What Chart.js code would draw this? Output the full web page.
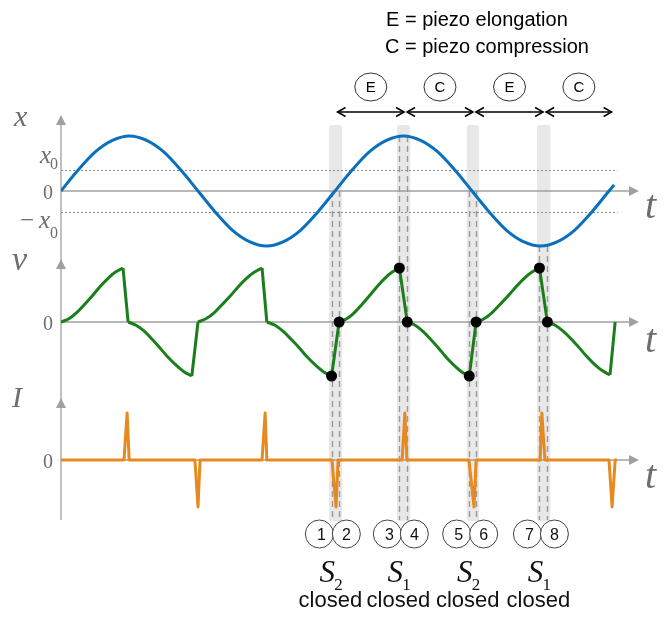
<!DOCTYPE html>
<html><head><meta charset="utf-8">
<script src="https://cdn.jsdelivr.net/npm/chart.js@4/dist/chart.umd.min.js"></script>
<style>html,body{margin:0;padding:0;background:#fff;}#wrap{width:672px;height:621px;}</style>
</head><body><div id="wrap"><canvas id="c" width="672" height="621"></canvas></div>
<script>
// ---- data (time in arbitrary units, one vibration period = 8) ----
const timeX = [0,0.5,1,1.5,2,2.5,3,3.5,4,4.5,5,5.5,6,6.5,7,7.5,8,8.5,9,9.5,10,10.5,11,11.5,12,12.5,13,13.5,14,14.5,15,15.5,16,16.15];
const displacement = [0,0.38,0.71,0.92,1,0.92,0.71,0.38,0,-0.38,-0.71,-0.92,-1,-0.92,-0.71,-0.38,0,0.38,0.71,0.92,1,0.92,0.71,0.38,0,-0.38,-0.71,-0.92,-1,-0.92,-0.71,-0.38,0,0.11];
const x0Level = 0.39;

const timeV = [0,0.23,0.45,0.68,0.91,1.13,1.36,1.58,1.81, 1.9,
  1.96,2.19,2.43,2.66,2.89,3.12,3.36,3.59,3.82, 3.9,
  4.0,4.23,4.47,4.70,4.94,5.17,5.40,5.64,5.87, 5.95,
  6.01,6.25,6.48,6.72,6.96,7.19,7.43,7.66,7.90, 8.0,
  8.12,8.34,8.56,8.78,9.00,9.22,9.44,9.66,9.88, 10.0,
  10.11,10.34,10.56,10.79,11.02,11.24,11.47,11.69,11.92, 12.0,
  12.12,12.35,12.58,12.81,13.05,13.28,13.51,13.74,13.97, 14.1,
  14.20,14.43,14.66,14.89,15.12,15.34,15.57,15.80,16.03];
const voltage = [0,0.06,0.17,0.32,0.48,0.65,0.80,0.92,1, null,
  0,-0.06,-0.17,-0.32,-0.48,-0.65,-0.80,-0.92,-1, null,
  0,0.06,0.17,0.32,0.48,0.65,0.80,0.92,1, null,
  0,-0.06,-0.17,-0.32,-0.48,-0.65,-0.80,-0.92,-1, null,
  0,0.06,0.17,0.32,0.48,0.65,0.80,0.92,1, null,
  0,-0.06,-0.17,-0.32,-0.48,-0.65,-0.80,-0.92,-1, null,
  0,0.06,0.17,0.32,0.48,0.65,0.80,0.92,1, null,
  0,-0.06,-0.17,-0.31,-0.47,-0.63,-0.78,-0.90,-0.98];
const jumpT = [1.81,1.96,1.97, 3.82,4.0,4.01, 5.87,6.01,6.02, 7.90,8.12,8.13, 9.88,10.11,10.12, 11.92,12.12,12.13, 13.97,14.20,14.21, 16.03,16.18];
const jumpV = [1,0,null, -1,0,null, 1,0,null, -1,0,null, 1,0,null, -1,0,null, 1,0,null, -0.98,0];

const timeI = [0,1.84,1.93,1.99,3.91,4.00,4.06,5.87,5.96,6.01,7.91,8.03,8.09,9.96,10.04,10.10,11.91,12.06,12.12,13.99,14.04,14.13,16.00,16.09,16.18,16.23];
const current = [0,0,1,0,0,-1,0,0,1,0,0,-1,0,0,1,0,0,-1,0,0,1,0,0,-1,0,0];

const switchStartT = [7.90, 9.88, 11.92, 13.97];
const switchEndT = [8.12, 10.11, 12.12, 14.20];
const switchX = [0, 1, 0, -1];
const switchV = [-1, 1, -1, 1];
const phaseBounds = [8.03, 10.06, 12.07, 14.12, 16.12];
const phaseLabels = ['E','C','E','C'];
const eventNumbers = [['1','2'],['3','4'],['5','6'],['7','8']];
const switchSub = ['2','1','2','1'];

const dotPoints = [];
for (let i = 0; i < switchStartT.length; i++) {
  dotPoints.push({x: switchStartT[i], y: switchV[i]});
  dotPoints.push({x: switchEndT[i], y: 0});
}
const zip = (a, b) => a.map((t, i) => ({x: t, y: b[i]}));

const BLUE = '#0a70be', GREEN = '#1a7f1a', ORANGE = '#e6891e', GRAY = '#a0a0a0', LABEL = '#6e6e6e';

function rrect(ctx, x, y, w, h, r) {
  ctx.beginPath();
  ctx.moveTo(x + r, y); ctx.lineTo(x + w - r, y); ctx.quadraticCurveTo(x + w, y, x + w, y + r);
  ctx.lineTo(x + w, y + h - r); ctx.quadraticCurveTo(x + w, y + h, x + w - r, y + h);
  ctx.lineTo(x + r, y + h); ctx.quadraticCurveTo(x, y + h, x, y + h - r);
  ctx.lineTo(x, y + r); ctx.quadraticCurveTo(x, y, x + r, y); ctx.closePath();
}
function tri(ctx, pts) {
  ctx.beginPath(); ctx.moveTo(pts[0], pts[1]); ctx.lineTo(pts[2], pts[3]); ctx.lineTo(pts[4], pts[5]); ctx.closePath(); ctx.fill();
}

const diagram = {
  id: 'diagram',
  beforeDatasetsDraw(chart) {
    const ctx = chart.ctx, sx = chart.scales.x;
    const ys = [chart.scales.yX, chart.scales.yV, chart.scales.yI];
    const tipOffsets = [76, 63, 62];
    const area = chart.chartArea;
    const x0 = sx.getPixelForValue(0);
    ctx.save();
    // shaded switching bands
    ctx.fillStyle = '#e8e8e8';
    for (let i = 0; i < switchStartT.length; i++) {
      const l = sx.getPixelForValue(switchStartT[i]) - 2.5;
      const r = sx.getPixelForValue(switchEndT[i]) + 3;
      rrect(ctx, l, 125, r - l, 396, 3); ctx.fill();
    }
    // dotted +-x0 lines
    ctx.strokeStyle = '#8c8c8c'; ctx.lineWidth = 1; ctx.setLineDash([2, 2]);
    [x0Level, -x0Level].forEach(v => {
      const y = Math.round(ys[0].getPixelForValue(v)) + 0.5;
      ctx.beginPath(); ctx.moveTo(x0, y); ctx.lineTo(sx.getPixelForValue(16.25), y); ctx.stroke();
    });
    // axes
    ctx.setLineDash([]);
    ctx.strokeStyle = GRAY; ctx.fillStyle = GRAY; ctx.lineWidth = 1.3;
    ctx.beginPath(); ctx.moveTo(x0, 124); ctx.lineTo(x0, 520); ctx.stroke();
    ys.forEach((s, k) => {
      const y0 = s.getPixelForValue(0);
      ctx.beginPath(); ctx.moveTo(x0, y0); ctx.lineTo(area.right - 9, y0); ctx.stroke();
      tri(ctx, [area.right, y0, area.right - 10, y0 - 5, area.right - 10, y0 + 5]);
      const tip = y0 - tipOffsets[k];
      tri(ctx, [x0, tip, x0 - 5, tip + 10, x0 + 5, tip + 10]);
    });
    // dashed switching lines
    ctx.strokeStyle = '#999'; ctx.lineWidth = 1.4; ctx.setLineDash([6, 4]);
    for (let i = 0; i < switchStartT.length; i++) {
      const yTop = ys[0].getPixelForValue(switchX[i]);
      [switchStartT[i], switchEndT[i]].forEach(t => {
        const x = Math.round(sx.getPixelForValue(t)) + 0.5;
        ctx.beginPath(); ctx.moveTo(x, yTop); ctx.lineTo(x, 520); ctx.stroke();
      });
    }
    ctx.restore();
  },
  afterDraw(chart) {
    const ctx = chart.ctx, sx = chart.scales.x;
    const yX = chart.scales.yX, yV = chart.scales.yV, yI = chart.scales.yI;
    ctx.save();
    ctx.textBaseline = 'alphabetic';
    // title lines
    ctx.fillStyle = '#000'; ctx.textAlign = 'left';
    ctx.font = '20px "Liberation Sans", Arial, sans-serif';
    ctx.fillText('E = piezo elongation', 386, 26);
    ctx.fillText('C = piezo compression', 385, 53);
    // phase arrows and circles
    ctx.strokeStyle = '#000'; ctx.lineWidth = 1.5;
    for (let i = 0; i < phaseLabels.length; i++) {
      const a = sx.getPixelForValue(phaseBounds[i]) + 1.5;
      const b = sx.getPixelForValue(phaseBounds[i + 1]) - 1.5;
      const y = 112;
      ctx.beginPath(); ctx.moveTo(a, y); ctx.lineTo(b, y); ctx.stroke();
      ctx.beginPath(); ctx.moveTo(a + 8, y - 4.5); ctx.lineTo(a, y); ctx.lineTo(a + 8, y + 4.5); ctx.stroke();
      ctx.beginPath(); ctx.moveTo(b - 8, y - 4.5); ctx.lineTo(b, y); ctx.lineTo(b - 8, y + 4.5); ctx.stroke();
      const c = (a + b) / 2;
      ctx.save(); ctx.lineWidth = 1; ctx.strokeStyle = '#333';
      ctx.beginPath(); ctx.ellipse(c, 87, 16, 14, 0, 0, Math.PI * 2); ctx.stroke(); ctx.restore();
      ctx.textAlign = 'center'; ctx.font = '15px "Liberation Sans", Arial, sans-serif';
      ctx.fillText(phaseLabels[i], c, 92);
    }
    // left axis labels
    ctx.fillStyle = LABEL;
    ctx.textAlign = 'left';
    ctx.font = 'italic 30px "Liberation Serif", "DejaVu Serif", serif';
    ctx.fillText('x', 14, 126);
    ctx.font = 'italic 34px "Liberation Serif", "DejaVu Serif", serif';
    ctx.fillText('v', 12, 270);
    ctx.font = 'italic 30px "Liberation Serif", "DejaVu Serif", serif';
    ctx.fillText('I', 12, 407);
    ctx.textAlign = 'right';
    const z = [yX.getPixelForValue(0), yV.getPixelForValue(0), yI.getPixelForValue(0)];
    ctx.font = '20px "Liberation Serif", "DejaVu Serif", serif';
    z.forEach(y => ctx.fillText('0', 53, y + 8));
    // x0 and -x0
    const yp = yX.getPixelForValue(x0Level), ym = yX.getPixelForValue(-x0Level);
    ctx.font = '16px "Liberation Serif", serif';
    ctx.fillText('0', 58, yp - 1);
    ctx.fillText('0', 58, ym + 26);
    ctx.font = 'italic 25px "Liberation Serif", serif';
    ctx.fillText('x', 51, yp - 7);
    ctx.fillText('x', 50, ym + 16);
    ctx.font = '25px "Liberation Serif", serif';
    ctx.fillText('\u2212', 34, ym + 16);
    // t labels
    ctx.textAlign = 'left';
    ctx.font = 'italic 40px "Liberation Serif", serif';
    ctx.fillText('t', 645, z[0] + 27);
    ctx.fillText('t', 645, z[1] + 30);
    ctx.fillText('t', 645, z[2] + 28);
    // event circles and switch labels
    for (let i = 0; i < switchStartT.length; i++) {
      const mid = (sx.getPixelForValue(switchStartT[i]) + sx.getPixelForValue(switchEndT[i])) / 2;
      const c1 = mid - 16, c2 = mid + 11, cy = 534;
      ctx.lineWidth = 1; ctx.strokeStyle = '#444'; ctx.fillStyle = '#fff';
      [c1, c2].forEach(cx => { ctx.beginPath(); ctx.arc(cx, cy, 14, 0, Math.PI * 2); ctx.fill(); ctx.stroke(); });
      ctx.fillStyle = '#111'; ctx.textAlign = 'center';
      ctx.font = '16px "Liberation Sans", Arial, sans-serif';
      ctx.fillText(eventNumbers[i][0], c1 + 2, cy + 6);
      ctx.fillText(eventNumbers[i][1], c2, cy + 6);
      ctx.font = 'italic 31px "Liberation Serif", serif';
      ctx.fillText('S', mid - 8, 582);
      ctx.font = '17px "Liberation Serif", serif';
      ctx.textAlign = 'left';
      ctx.fillText(switchSub[i], mid - 1, 590);
      ctx.textAlign = 'center';
      ctx.font = '22px "Liberation Sans", Arial, sans-serif';
      ctx.fillText('closed', mid - 5, 607);
    }
    ctx.restore();
  }
};

new Chart(document.getElementById('c'), {
  type: 'line',
  data: {
    datasets: [
      { label: 'switch points', data: dotPoints, yAxisID: 'yV', showLine: false,
        pointRadius: 5.5, pointBackgroundColor: '#000', pointBorderColor: '#000', pointBorderWidth: 0 },
      { label: 'x', data: zip(timeX, displacement), yAxisID: 'yX', borderColor: BLUE, borderWidth: 3,
        pointRadius: 0, cubicInterpolationMode: 'monotone', fill: false },
      { label: 'v', data: zip(timeV, voltage), yAxisID: 'yV', borderColor: GREEN, borderWidth: 3,
        pointRadius: 0, cubicInterpolationMode: 'monotone', spanGaps: false, fill: false },
      { label: 'v jumps', data: zip(jumpT, jumpV), yAxisID: 'yV', borderColor: GREEN, borderWidth: 3,
        pointRadius: 0, tension: 0, spanGaps: false, fill: false, borderJoinStyle: 'round' },
      { label: 'I', data: zip(timeI, current), yAxisID: 'yI', borderColor: ORANGE, borderWidth: 3,
        pointRadius: 0, tension: 0, fill: false, borderJoinStyle: 'round' }
    ]
  },
  options: {
    responsive: false,
    animation: false,
    devicePixelRatio: 1,
    layout: { padding: { left: 61, right: 33, top: 118, bottom: 101 } },
    plugins: { legend: { display: false }, tooltip: { enabled: false }, title: { display: false } },
    scales: {
      x: { type: 'linear', min: 0, max: 16.876, display: false },
      yX: { type: 'linear', min: -5.982, max: 1.327, display: false },
      yV: { type: 'linear', min: -3.667, max: 3.778, display: false },
      yI: { type: 'linear', min: -1.277, max: 7.277, display: false }
    }
  },
  plugins: [diagram]
});
</script>
</body></html>
